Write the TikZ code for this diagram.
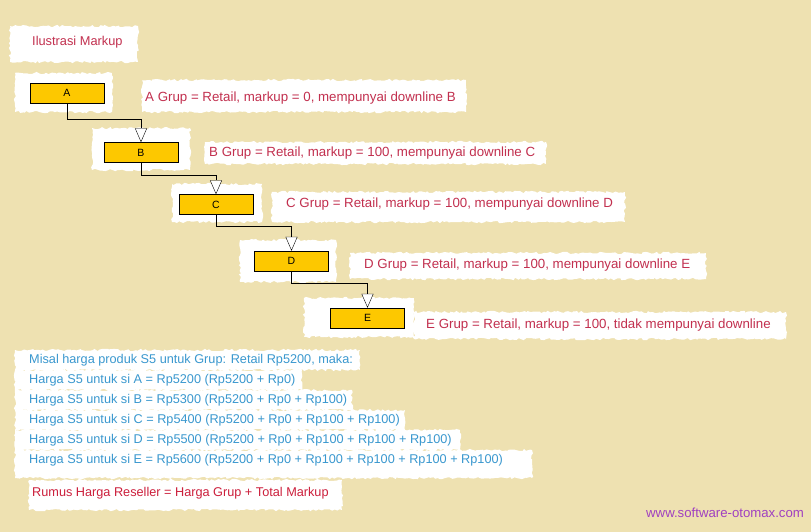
\documentclass[tikz,border=0pt]{standalone}
\usepackage{fontspec}
\setmainfont{Liberation Sans}
\usetikzlibrary{arrows.meta,decorations.pathmorphing}

\definecolor{paper}{HTML}{EEE1B1}
\definecolor{gold}{HTML}{FDC800}
\definecolor{wine}{HTML}{C2304F}
\definecolor{sky}{HTML}{3A98CF}
\definecolor{rumred}{HTML}{CC1F3C}
\definecolor{violet}{HTML}{A040C0}

\tikzset{
  patch/.style={fill=white, decorate,
    decoration={random steps, segment length=2.5pt, amplitude=1.2pt}},
  level/.style={draw=black, fill=gold, minimum width=74pt, minimum height=20pt,
    inner sep=0pt, font=\fontsize{10.5}{12}\selectfont},
  note/.style={anchor=west, inner sep=0pt, text=wine, font=\fontsize{13.3}{15}\selectfont},
  calc/.style={anchor=west, inner sep=0pt, text=sky, font=\fontsize{12.7}{14}\selectfont},
  link/.style={draw=black, -{Triangle[length=14pt, width=12pt, fill=white]}}
}

\begin{document}
\begin{tikzpicture}[x=1pt, y=-1pt]
    \fill[paper] (0,0) rectangle (811,532);
    \useasboundingbox (0,0) rectangle (811,532);

    % white patches behind the texts
    \fill[patch] (10,26) rectangle (138,62);
    \fill[patch] (15,73) rectangle (112,112);
    \fill[patch] (142,80) rectangle (466,112);
    \fill[patch] (92,128) rectangle (190,170);
    \fill[patch] (205,142) rectangle (546,164);
    \fill[patch] (172,184) rectangle (262,222);
    \fill[patch] (272,192) rectangle (625,222);
    \fill[patch] (240,240) rectangle (336,282);
    \fill[patch] (350,253) rectangle (706,279);
    \fill[patch] (304,298) rectangle (414,337);
    \fill[patch] (414,312) rectangle (786,339);
    \fill[patch] (15,350) rectangle (360,370);
    \fill[patch] (15,370) rectangle (302,390);
    \fill[patch] (15,390) rectangle (352,410);
    \fill[patch] (15,410) rectangle (405,430);
    \fill[patch] (15,430) rectangle (460,450);
    \fill[patch] (15,450) rectangle (532,478);
    \fill[patch] (29,480) rectangle (342,510);

    \node[note, font=\fontsize{12.8}{14}\selectfont] (title) at (32,42) {Ilustrasi Markup};

    \node[level] (A) at (67,93) {A};
    \node[level] (B) at (141,152.5) {B};
    \node[level] (C) at (216,204.5) {C};
    \node[level] (D) at (291.5,261) {D};
    \node[level] (E) at (367.5,318) {E};

    \draw[link] (A.south) -- ++(0,16) -| (B.north);
    \draw[link] (B.south) -- ++(0,12) -| (C.north);
    \draw[link] (C.south) -- ++(0,11) -| (D.north);
    \draw[link] (D.south) -- ++(0,12) -| (E.north);

    \node[note] (noteA) at (145,98) {A Grup = Retail, markup = 0, mempunyai downline B};
    \node[note] (noteB) at (209,153) {B Grup = Retail, markup = 100, mempunyai downline C};
    \node[note] (noteC) at (286,204) {C Grup = Retail, markup = 100, mempunyai downline D};
    \node[note] (noteD) at (364,265) {D Grup = Retail, markup = 100, mempunyai downline E};
    \node[note] (noteE) at (426,325) {E Grup = Retail, markup = 100, tidak mempunyai downline};

    \node[calc] (ex0) at (29,360) {Misal harga produk S5 untuk Grup: Retail Rp5200, maka:};
    \node[calc] (exA) at (29,380) {Harga S5 untuk si A = Rp5200 (Rp5200 + Rp0)};
    \node[calc] (exB) at (29,400) {Harga S5 untuk si B = Rp5300 (Rp5200 + Rp0 + Rp100)};
    \node[calc] (exC) at (29,420) {Harga S5 untuk si C = Rp5400 (Rp5200 + Rp0 + Rp100 + Rp100)};
    \node[calc] (exD) at (29,440) {Harga S5 untuk si D = Rp5500 (Rp5200 + Rp0 + Rp100 + Rp100 + Rp100)};
    \node[calc] (exE) at (29,460) {Harga S5 untuk si E = Rp5600 (Rp5200 + Rp0 + Rp100 + Rp100 + Rp100 + Rp100)};

    \node[calc, text=rumred] (rumus) at (32,493) {Rumus Harga Reseller = Harga Grup + Total Markup};

    \node[note, text=violet, font=\fontsize{13.2}{15}\selectfont] (web) at (646,513) {www.software-otomax.com};
\end{tikzpicture}
\end{document}
